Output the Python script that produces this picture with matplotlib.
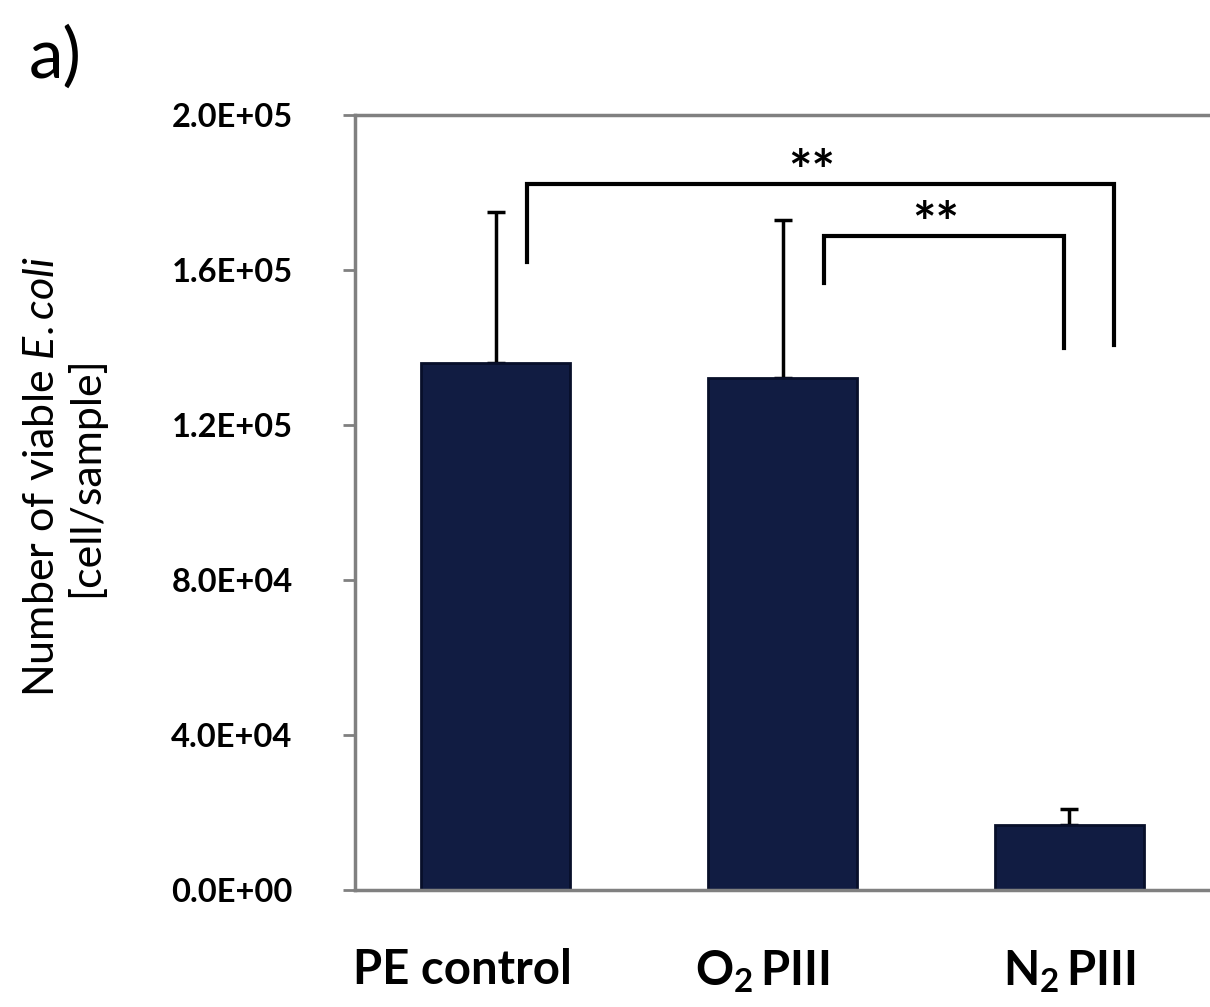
import numpy as np
import matplotlib
matplotlib.use("Agg")
import matplotlib.pyplot as plt
import matplotlib.transforms as mtransforms

plt.rcParams['font.family'] = ['Lato', 'DejaVu Sans']
plt.rcParams['mathtext.fontset'] = 'custom'
plt.rcParams['mathtext.it'] = 'Lato:italic'
plt.rcParams['mathtext.rm'] = 'Lato'
plt.rcParams['mathtext.default'] = 'regular'

# data
groups = ["PE control", "O$_2\\,$PIII", "N$_2\\,$PIII"]
cells = [136000, 132000, 16800]
cells_err = [39000, 41000, 4000]
y_ticks = [0, 40000, 80000, 120000, 160000, 200000]
y_tick_labels = ["0.0E+00", "4.0E+04", "8.0E+04", "1.2E+05", "1.6E+05", "2.0E+05"]

# significance brackets: (x left, x right, y top, left leg bottom, right leg bottom)
brackets = [(0.11, 2.157, 182200, 162000, 140600),
            (1.146, 1.98, 168800, 156600, 139900)]
stars = ["**", "**"]

fig = plt.figure(figsize=(12.1, 10.07), dpi=100)
ax = fig.add_axes([0.2934, 0.1162, 0.7066, 0.7696])

x = np.arange(len(groups))
ax.bar(x, cells, width=0.52, color='#111c42', edgecolor='#080f2a', linewidth=2, zorder=2)
ax.errorbar(x, cells, yerr=[np.zeros(len(cells)), cells_err], fmt='none',
            ecolor='black', elinewidth=2.5, capsize=6.5, capthick=2.5, zorder=1)

for (x0, x1, ytop, yl, yr), s in zip(brackets, stars):
    ax.plot([x0, x0, x1, x1], [yl, ytop, ytop, yr], color='black', lw=3, solid_joinstyle='miter')
    ax.text((x0 + x1) / 2 - 0.03, ytop - 4000, s, ha='center', va='bottom',
            fontsize=40, fontweight='bold')

ax.set_xlim(-0.49, 2.49)
ax.set_ylim(0, 200000)
ax.tick_params(axis='x', length=0, pad=42)
ax.tick_params(axis='y', length=9, width=2, color='#808080', pad=36)
ax.set_yticks(y_ticks)
ax.set_yticklabels(y_tick_labels, fontsize=23.5, fontweight='bold')
ax.set_xticks(x)
ax.set_xticklabels(groups, fontsize=34, fontweight='bold')

# labels sit a little left of their bars in the original
for lab, dx in zip(ax.get_xticklabels(), [-33, -20, 0]):
    lab.set_transform(lab.get_transform() + mtransforms.ScaledTranslation(dx / 100, 0, fig.dpi_scale_trans))

for side in ['left', 'top', 'bottom']:
    ax.spines[side].set_color('#808080')
    ax.spines[side].set_linewidth(2.5)
ax.spines['right'].set_visible(False)

fig.text(0.053, 0.527, "Number of viable $\\mathit{E.coli}$\n[cell/sample]",
         rotation=90, ha='center', va='center', multialignment='center',
         fontsize=31, linespacing=1.15)
fig.text(0.024, 0.975, "a)", ha='left', va='top', fontsize=50)

fig.savefig("out.png", dpi=100)
